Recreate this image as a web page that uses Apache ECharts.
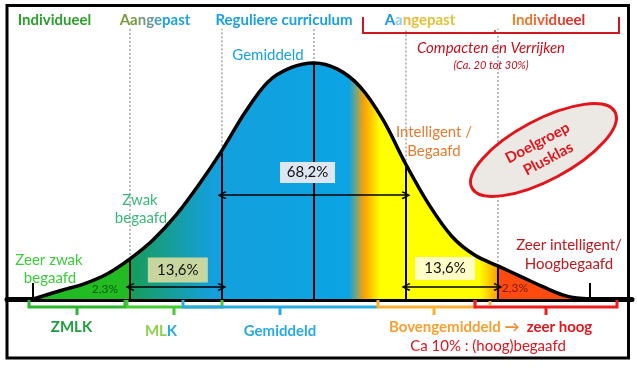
<!DOCTYPE html>
<html><head><meta charset="utf-8">
<script src="https://cdn.jsdelivr.net/npm/echarts@6/dist/echarts.min.js"></script>
<style>html,body{margin:0;padding:0;background:#fff}#c{width:637px;height:368px}</style>
</head><body><div id="c"></div>
<script>
// ---- data (x in standard deviations, y relative to the peak) ----
const sigmaPos    = [-3.05,-2.75,-2.5,-2.25,-2,-1.75,-1.5,-1.25,-1,-0.75,-0.5,-0.25,0,0.25,0.5,0.75,1,1.25,1.5,1.75,2,2.25,2.5,2.75,3.0];
const curveHeight = [0,0.036,0.064,0.106,0.17,0.25,0.355,0.485,0.63,0.79,0.92,0.98,1,0.975,0.9,0.76,0.57,0.4,0.265,0.185,0.14,0.095,0.05,0.012,0];
const sigmaLines  = [-2,-1,0,1,2];
const guideTop    = 1.145;
const arrowFrom   = [-2,-1,1];
const arrowTo     = [-1,1,2];
const arrowLevel  = [0.051,0.44,0.051];
const boxText     = ['13,6%','68,2%','13,6%'];
const boxX        = [-1.48,-0.07,1.425];
const boxY        = [0.123,0.536,0.129];
const tailText    = ['2,3%','2,3%'];

const chart = echarts.init(document.getElementById('c'), null, {renderer:'canvas'});
const heightAt = s => curveHeight[sigmaPos.indexOf(s)];
const xMin = sigmaPos[0], xMax = sigmaPos[sigmaPos.length-1];
const off = s => (s - xMin) / (xMax - xMin);

const areaGrad = new echarts.graphic.LinearGradient(0,0,1,0,[
  {offset:0, color:'#22bb22'},
  {offset:off(-2)-0.0005, color:'#22bb22'},
  {offset:off(-2), color:'#179c58'},
  {offset:off(-1.1), color:'#14a0dc'},
  {offset:off(0.38), color:'#0ba4e4'},
  {offset:off(0.55), color:'#ffa300'},
  {offset:off(0.72), color:'#ffff00'},
  {offset:off(1.8), color:'#ffff00'},
  {offset:off(2)-0.0005, color:'#ff9c00'},
  {offset:off(2), color:'#ff4a10'},
  {offset:1, color:'#ff4a10'}
]);

const chev = 'path://M5,0 L10,7 L8.6,8.2 L5,2.6 L1.4,8.2 L0,7 Z';
const FF = 'Lato';

const series = [{
  type:'line', smooth:0.35, symbol:'none', z:2,
  data: sigmaPos.map((s,i)=>[s,curveHeight[i]]),
  lineStyle:{color:'#000', width:3.5},
  areaStyle:{color:areaGrad, opacity:1},
  markLine:{
    silent:true, symbol:[chev,chev], symbolSize:[8,9],
    lineStyle:{color:'#000', width:1.5, type:'solid'},
    label:{show:false},
    data: arrowFrom.map((f,i)=>[{coord:[f,arrowLevel[i]]},{coord:[arrowTo[i],arrowLevel[i]]}])
  }
}];
sigmaLines.forEach(s=>{
  series.push({type:'line', symbol:'none', z:3, data:[[s,0],[s,heightAt(s)]], lineStyle:{color:'#000', width:2}});
  series.push({type:'line', symbol:'none', z:1, data:[[s,heightAt(s)],[s,guideTop]], lineStyle:{color:'#777', width:1, type:[2,2]}});
});
const boxColors = ['#c6d69e','#dde6f1','#ffffc6'];
const boxW = [60,55,60], boxH=[25,21,23];
series.push({
  type:'scatter', symbolSize:1, z:5, itemStyle:{color:'rgba(0,0,0,0)', opacity:1},
  data: boxText.map((t,i)=>({value:[boxX[i],boxY[i]], name:t,
    label:{backgroundColor:boxColors[i], width:boxW[i], height:boxH[i], lineHeight:boxH[i]}})),
  label:{show:true, opacity:1, position:'inside', formatter:p=>p.name, fontFamily:FF, fontSize:15, color:'#111', align:'center', verticalAlign:'middle'}
});

function T(x,y,text,color,size,weight,extra){
  return Object.assign({type:'text', x, y, z:100, style:{text, fill:color, font:`${weight||'normal'} ${size}px ${FF}`, align:'center', verticalAlign:'middle'}}, extra||{});
}
function R(x,y,parts,size,weight,align){
  const rich={}; let text='';
  parts.forEach((p,i)=>{ rich['r'+i]={fill:p[1], font:`${weight} ${size}px ${FF}`}; text+='{r'+i+'|'+p[0]+'}'; });
  return {type:'text', x, y, z:100, style:{text, rich, font:`${weight} ${size}px ${FF}`, align:align||'center', verticalAlign:'middle'}};
}
function P(points,color,w){ return {type:'polyline', z:60, shape:{points}, style:{stroke:color, lineWidth:w, fill:null}}; }

const indivR = ['#f28a2a','#f07f2a','#ee742a','#ec6a2a','#ea602a','#e8562a','#e64c2a','#e4422a','#e2382a','#e02e2a','#de242a'];

const graphic = [
  {type:'rect', z:50, shape:{x:7, y:5.5, width:621.5, height:352.5}, style:{fill:null, stroke:'#000', lineWidth:3}},
  // header
  T(54.5,20,'Individueel','#2e9e2e',15,'bold'),
  R(155,20,[['Aa','#7c9a3a'],['n','#7a9870'],['g','#6a9a98'],['e','#4a9ec0'],['past','#20a2e0']],15,'bold'),
  T(284,20,'Reguliere curriculum','#1ba1e2',15,'bold'),
  R(420,20,[['A','#2196e0'],['a','#8fd0f0'],['n','#f0b040'],['gepast','#e2c038']],15,'bold'),
  R(548.5,20,'Individueel'.split('').map((c,i)=>[c,indivR[i]]),15,'bold'),
  P([[363,17],[363,33],[619,33],[619,17]],'#d01820',2),
  P([[495,30],[495,33]],'#d01820',1.5),
  T(491,48,'Compacten en Verrijken','#c41020',15,'italic'),
  T(491,65,'(Ca. 20 tot 30%)','#c41020',11,'italic'),
  // in-chart texts
  T(268,55,'Gemiddeld','#1ba1e2',15),
  T(140,200,'Zwak','#3bb77a',15), T(141,218,'begaafd','#3bb77a',15),
  T(49,260,'Zeer zwak','#3ccc3c',15), T(50,278,'begaafd','#3ccc3c',15),
  T(434,132,'Intelligent /','#e57c30',15), T(434,151,'Begaafd','#e57c30',15),
  T(569,245,'Zeer intelligent/','#c0181e',15), T(569,264,'Hoogbegaafd','#c0181e',15),
  T(105,289,tailText[0],'#0b5e0b',12), T(515,288,tailText[1],'#7a1a00',12),
  // ellipse
  {type:'group', x:543.5, y:150, rotation:28*Math.PI/180, z:90, children:[
    {type:'ellipse', z:90, shape:{cx:0, cy:0, rx:81, ry:30}, style:{fill:'#ece8e3', stroke:'#e2141c', lineWidth:3}},
    {type:'text', z:91, x:-2, y:-9, style:{text:'Doelgroep', fill:'#e2141c', font:`bold 15px ${FF}`, align:'center', verticalAlign:'middle'}},
    {type:'text', z:91, x:0, y:10, style:{text:'Plusklas', fill:'#e2141c', font:`bold 15px ${FF}`, align:'center', verticalAlign:'middle'}}
  ]},
  // baseline ticks
  P([[33,283],[33,298]],'#000',2),
  P([[590,283],[590,298]],'#000',2),
  // brackets under baseline
  P([[29,300],[29,307],[125,307],[125,300]],'#2db52d',3), P([[77,307],[77,315]],'#2db52d',3),
  P([[127,300],[127,307],[222,307],[222,300]],'#44cc33',3), P([[174,307],[174,315]],'#44cc33',3),
  P([[183,300],[183,307],[378,307]],'#29abe2',3), P([[280,307],[280,315]],'#29abe2',3),
  P([[378,300],[378,307],[475,307],[475,300]],'#fbb034',3), P([[434,307],[434,315]],'#fbb034',3),
  P([[490,301],[490,305]],'#fbb034',3),
  P([[475,300],[475,307],[617,307],[617,300]],'#ee1c1c',3), P([[546,307],[546,315]],'#ee1c1c',3),
  T(71.5,327,'ZMLK','#1e9e3e',15,'bold'),
  R(161,331,[['ML','#8fd14f'],['K','#29abe2']],15,'bold'),
  T(280,331,'Gemiddeld','#29abe2',15,'bold'),
  R(389,327,[['Bovengemiddeld ','#f7a030'],['→  ','#f08a30'],['zeer hoog','#e0161e']],15,'bold','left'),
  T(488,346,'Ca 10% : (hoog)begaafd','#e0161e',15)
];

chart.setOption({
  animation:false,
  backgroundColor:'#fff',
  grid:{left:7, right:5, top:4, bottom:69},
  xAxis:{type:'value', min:-3.337, max:3.457, axisLine:{show:true, onZero:false, lineStyle:{color:'#000', width:5}},
    axisTick:{show:false}, axisLabel:{show:false}, splitLine:{show:false}},
  yAxis:{type:'value', min:0, max:1.25, show:false},
  series,
  graphic
});
</script></body></html>
